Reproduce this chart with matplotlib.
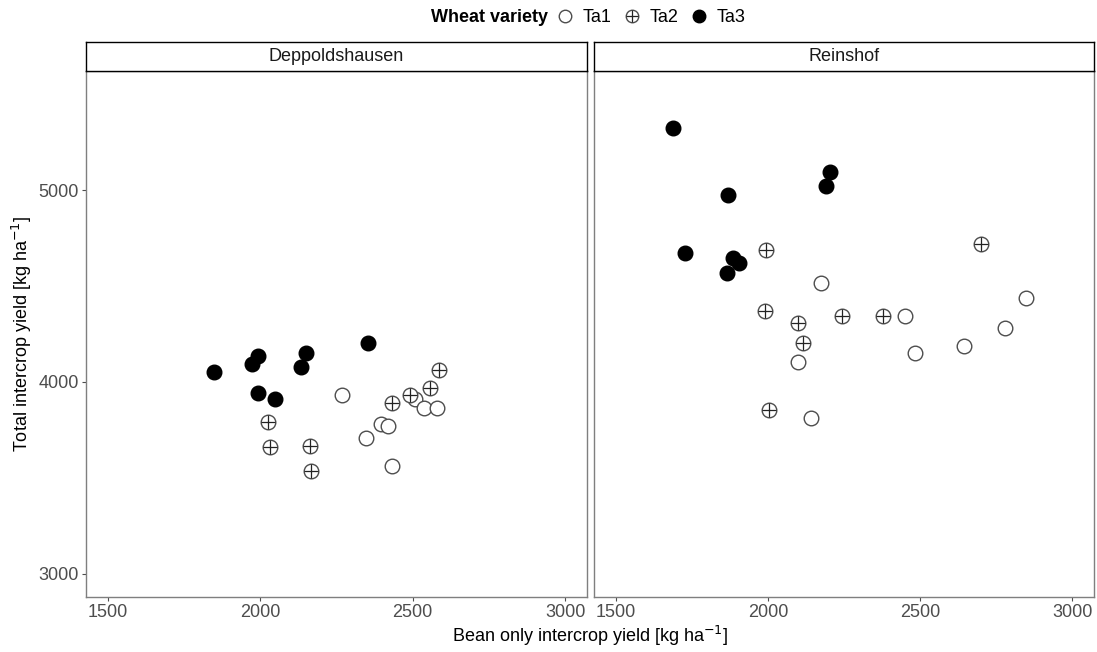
import matplotlib
matplotlib.use('Agg')
import matplotlib.pyplot as plt
from matplotlib.lines import Line2D

plt.rcParams['font.family'] = ['Liberation Sans', 'DejaVu Sans']

sites = ['Deppoldshausen', 'Reinshof']
varieties = ['Ta1', 'Ta2', 'Ta3']

# bean only intercrop yield (x) and total intercrop yield (y), per site and variety
dep_ta1_x = [2267, 2507, 2537, 2581, 2395, 2419, 2348, 2432]
dep_ta1_y = [3931, 3910, 3863, 3866, 3780, 3773, 3710, 3562]
dep_ta2_x = [2024, 2031, 2164, 2166, 2433, 2492, 2558, 2587]
dep_ta2_y = [3793, 3663, 3667, 3538, 3889, 3932, 3970, 4062]
dep_ta3_x = [1848, 1991, 1974, 2149, 2132, 2353, 1993, 2047]
dep_ta3_y = [4054, 4137, 4092, 4149, 4080, 4202, 3944, 3910]

rei_ta1_x = [2173, 2848, 2780, 2644, 2483, 2449, 2099, 2141]
rei_ta1_y = [4514, 4439, 4281, 4188, 4153, 4344, 4104, 3814]
rei_ta2_x = [1992, 2701, 1991, 2100, 2115, 2242, 2379, 2003]
rei_ta2_y = [4686, 4717, 4371, 4306, 4203, 4345, 4342, 3856]
rei_ta3_x = [1688, 2204, 2192, 1870, 1726, 1886, 1905, 1864]
rei_ta3_y = [5324, 5095, 5019, 4976, 4673, 4648, 4618, 4569]

data = {
    'Deppoldshausen': [(dep_ta1_x, dep_ta1_y), (dep_ta2_x, dep_ta2_y), (dep_ta3_x, dep_ta3_y)],
    'Reinshof': [(rei_ta1_x, rei_ta1_y), (rei_ta2_x, rei_ta2_y), (rei_ta3_x, rei_ta3_y)],
}

xticks = [1500, 2000, 2500, 3000]
yticks = [3000, 4000, 5000]

W, H = 1097, 652
fig = plt.figure(figsize=(W / 100, H / 100), dpi=100)

ms = 10.5
edge = '#4d4d4d'


def draw_points(ax, x, y, kind):
    if kind == 'Ta1':
        ax.plot(x, y, 'o', ms=ms, mfc='white', mec=edge, mew=1.0, ls='none')
    elif kind == 'Ta2':
        ax.plot(x, y, 'o', ms=ms, mfc='white', mec=edge, mew=1.0, ls='none')
        ax.plot(x, y, '+', ms=ms, mec='#222222', mew=0.9, ls='none')
    else:
        ax.plot(x, y, 'o', ms=ms, mfc='black', mec='black', mew=1.0, ls='none')


panels = [(86, 587), (594, 1094)]
top, bottom = 71, 597
for (x0, x1), site in zip(panels, sites):
    ax = fig.add_axes([x0 / W, 1 - bottom / H, (x1 - x0) / W, (bottom - top) / H])
    for kind, (x, y) in zip(varieties, data[site]):
        draw_points(ax, x, y, kind)
    ax.set_xlim(1428, 3072)
    ax.set_ylim(2880, 5620)
    ax.set_xticks(xticks)
    ax.set_yticks(yticks)
    for s in ax.spines.values():
        s.set_color('#7f7f7f')
        s.set_linewidth(1.0)
    ax.tick_params(colors='#4d4d4d', labelsize=13, length=3, width=0.8, pad=2)
    if site != sites[0]:
        ax.set_yticklabels([])
        ax.tick_params(axis='y', length=0)
    # strip
    sx = fig.add_axes([x0 / W, 1 - top / H, (x1 - x0) / W, 29 / H])
    sx.set_xticks([])
    sx.set_yticks([])
    for s in sx.spines.values():
        s.set_color('black')
        s.set_linewidth(1.0)
    sx.text(0.5, 0.5, site, ha='center', va='center', fontsize=13, color='#1a1a1a',
            transform=sx.transAxes)

fig.text(590 / W, 1 - 636 / H, 'Bean only intercrop yield [kg ha$^{-1}$]',
         ha='center', va='center', fontsize=13)
fig.text(22 / W, 1 - 334 / H, 'Total intercrop yield [kg ha$^{-1}$]',
         ha='center', va='center', rotation=90, fontsize=13)

# legend
lms = 9
handles = [
    Line2D([], [], marker='o', ls='none', ms=lms, mfc='white', mec=edge, mew=1.0),
    (Line2D([], [], marker='o', ls='none', ms=lms, mfc='white', mec=edge, mew=1.0),
     Line2D([], [], marker='+', ls='none', ms=lms, mec='#222222', mew=0.9)),
    Line2D([], [], marker='o', ls='none', ms=lms, mfc='black', mec='black'),
]
fig.text(548 / W, 1 - 18 / H, 'Wheat variety', ha='right', va='center',
         fontsize=13, fontweight='bold')
fig.legend(handles, varieties, ncol=3, loc='center left',
           bbox_to_anchor=(556 / W, 1 - 18 / H), frameon=False, fontsize=13,
           handlelength=1.0, handletextpad=0.5, columnspacing=0.6,
           borderaxespad=0, borderpad=0)

fig.savefig('out.png', dpi=100)
